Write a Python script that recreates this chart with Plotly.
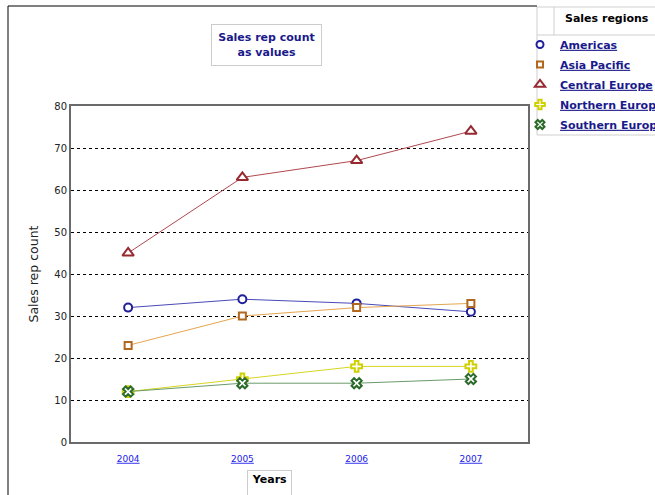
import plotly.graph_objects as go

# Sales rep counts per region and year
years = ["2004", "2005", "2006", "2007"]
regions = ["Americas", "Asia Pacific", "Central Europe", "Northern Europe", "Southern Europe"]
americas = [32, 34, 33, 31]
asia_pacific = [23, 30, 32, 33]
central_europe = [45, 63, 67, 74]
northern_europe = [12, 15, 18, 18]
southern_europe = [12, 14, 14, 15]
series_values = [americas, asia_pacific, central_europe, northern_europe, southern_europe]

y_ticks = [0, 10, 20, 30, 40, 50, 60, 70, 80]

styles = {
    "Americas": dict(line="#4a4ab8", marker="#1f1f9c", symbol="circle", size=8),
    "Asia Pacific": dict(line="#e4a650", marker="#b0681e", symbol="square", size=7),
    "Central Europe": dict(line="#b0484e", marker="#962a30", symbol="triangle-up", size=10),
    "Northern Europe": dict(line="#d6d620", marker="#d0d000", symbol="cross", size=9),
    "Southern Europe": dict(line="#6a9a6a", marker="#2a6a2a", symbol="x", size=9),
}

FONT = "DejaVu Sans"
NAVY = "#1a1a8c"

# plot area in pixels: x 71..528, y 106..442
W, H = 655, 495
L, R, T, B = 71, 528, 106, 442


def px(x):
    return (x - L) / (R - L)


def py(y):
    return (B - y) / (B - T)


fig = go.Figure()

for i, (name, vals) in enumerate(zip(regions, series_values)):
    s = styles[name]
    fig.add_trace(go.Scatter(
        x=years, y=vals, mode="lines+markers", name=name,
        line=dict(color=s["line"], width=1),
        marker=dict(symbol=s["symbol"], size=s["size"], color="white",
                    line=dict(color=s["marker"], width=2)),
        showlegend=False, hoverinfo="x+y+name",
    ))
    # legend entry showing only the marker
    fig.add_trace(go.Scatter(
        x=[None], y=[None], mode="markers",
        name=f"<b><u>{name}</u></b>", legendgroup=f"g{i}",
        marker=dict(symbol=s["symbol"], size=s["size"] - 1, color="white",
                    line=dict(color=s["marker"], width=2)),
        showlegend=True,
    ))

shapes = [
    # outer frame (left and top edges)
    dict(type="line", xref="paper", yref="paper", x0=px(8), x1=px(8), y0=py(6), y1=py(500),
         line=dict(color="black", width=1)),
    dict(type="line", xref="paper", yref="paper", x0=px(8), x1=px(537), y0=py(6), y1=py(6),
         line=dict(color="black", width=1)),
    # legend box
    dict(type="rect", xref="paper", yref="paper", x0=px(537), x1=px(660), y0=py(7), y1=py(135),
         line=dict(color="#cfcfcf", width=1)),
    dict(type="line", xref="paper", yref="paper", x0=px(537), x1=px(660), y0=py(35), y1=py(35),
         line=dict(color="#cfcfcf", width=1)),
    dict(type="line", xref="paper", yref="paper", x0=px(554), x1=px(554), y0=py(7), y1=py(35),
         line=dict(color="#cfcfcf", width=1)),
]

annotations = [
    dict(text="<b>Sales rep count<br>as values</b>", xref="paper", yref="paper",
         x=px(266.5), y=py(45), xanchor="center", yanchor="middle", showarrow=False,
         font=dict(family=FONT, size=11, color=NAVY), bgcolor="white",
         bordercolor="#cccccc", borderwidth=1, borderpad=2, width=105, height=36),
    dict(text="<b>Years</b>", xref="paper", yref="paper",
         x=px(269.5), y=py(470), xanchor="center", yanchor="top", showarrow=False,
         font=dict(family=FONT, size=11, color="black"), bgcolor="white",
         bordercolor="#cccccc", borderwidth=1, borderpad=2, width=39, height=30, valign="top"),
    dict(text="Sales rep count", xref="paper", yref="paper", textangle=-90,
         x=px(33), y=py(274.5), xanchor="center", yanchor="middle", showarrow=False,
         font=dict(family=FONT, size=12.5, color="#222222")),
    dict(text="<b>Sales regions</b>", xref="paper", yref="paper",
         x=px(607), y=py(18), xanchor="center", yanchor="middle", showarrow=False,
         font=dict(family=FONT, size=11, color="black")),
]

fig.update_layout(
    width=W, height=H,
    margin=dict(l=L, r=W - R, t=T, b=H - B, autoexpand=False),
    paper_bgcolor="white", plot_bgcolor="white",
    font=dict(family=FONT, size=10, color="#222222"),
    xaxis=dict(
        type="category", categoryorder="array", categoryarray=years,
        tickmode="array", tickvals=years, ticktext=[f"<u>{y}</u>" for y in years],
        tickfont=dict(family=FONT, size=9, color="#2020e8"),
        range=[-0.5, 3.5], showgrid=False, zeroline=False, ticklabelstandoff=7,
        showline=True, linecolor="#6a6a6a", linewidth=2, mirror=True, ticks="",
    ),
    yaxis=dict(
        range=[0, 80], tickmode="array", tickvals=y_ticks,
        tickfont=dict(family=FONT, size=10, color="#222222"),
        showgrid=True, gridcolor="black", gridwidth=1, griddash="3px,3px",
        zeroline=False, showline=True, linecolor="#6a6a6a", linewidth=2, mirror=True,
        ticks="",
    ),
    legend=dict(
        x=px(520), y=py(30), xanchor="left", yanchor="top", xref="paper", yref="paper",
        bgcolor="rgba(0,0,0,0)", borderwidth=0, tracegroupgap=1,
        font=dict(family=FONT, size=11, color=NAVY),
    ),
    shapes=shapes, annotations=annotations, showlegend=True,
)

fig.write_html("out.html")
